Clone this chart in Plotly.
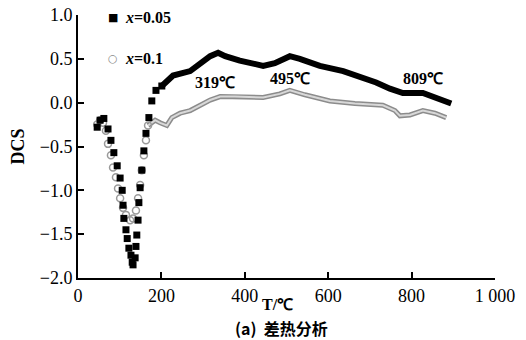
import plotly.graph_objects as go

# x = 0.05 series (temperature °C, DCS)
T_005 = [46, 53, 62, 72, 79, 86, 94, 101, 106, 108, 110, 115, 118, 122, 127, 130, 132,
         137, 139, 141, 144, 146, 149, 153, 158, 163, 170, 177, 187, 201,
         228, 269, 293, 317, 336, 353, 388, 444, 472, 508, 532, 580, 636, 676, 715,
         748, 779, 827, 856, 895]
DCS_005 = [-0.28, -0.20, -0.18, -0.30, -0.43, -0.57, -0.72, -0.86, -1.00, -1.17, -1.32, -1.45, -1.55, -1.66, -1.74, -1.82, -1.85,
           -1.77, -1.64, -1.51, -1.34, -1.14, -0.97, -0.77, -0.55, -0.35, -0.17, 0.02, 0.14, 0.19,
           0.31, 0.36, 0.44, 0.53, 0.57, 0.53, 0.48, 0.42, 0.45, 0.53, 0.50, 0.42, 0.36, 0.30, 0.23,
           0.16, 0.11, 0.11, 0.06, -0.01]
SPLIT_005 = 29  # points drawn as separate markers (the endothermic dip)

# x = 0.1 series
T_01 = [46, 53, 60, 67, 72, 79, 84, 91, 96, 101, 108, 115, 125, 132,
        139, 144, 149, 153, 158, 163, 168,
        185, 197, 213, 225, 245, 269, 293, 317, 341, 376, 444, 484, 508, 544,
        604, 664, 731, 760, 772, 796, 827, 856, 883]
DCS_01 = [-0.25, -0.20, -0.23, -0.32, -0.47, -0.60, -0.74, -0.85, -0.98, -1.09, -1.20, -1.28, -1.34, -1.32,
          -1.23, -1.09, -0.94, -0.77, -0.60, -0.43, -0.26,
          -0.20, -0.23, -0.26, -0.17, -0.12, -0.09, -0.03, 0.03, 0.07, 0.07, 0.06, 0.10, 0.14, 0.09,
          0.02, -0.01, -0.03, -0.09, -0.15, -0.14, -0.09, -0.12, -0.17]
SPLIT_01 = 20

series_names = ["<b><i>x</i>=0.05</b>", "<b><i>x</i>=0.1</b>"]

peak_T = [319, 495, 809]
peak_label_pos = [(329, 0.23), (508, 0.28), (827, 0.28)]

x_ticks = [0, 200, 400, 600, 800, 1000]
x_ticktext = ["0", "200", "400", "600", "800", "1 000"]
y_ticks = [1.0, 0.5, 0.0, -0.5, -1.0, -1.5, -2.0]
y_ticktext = ["1.0", "0.5", "0.0", "\u22120.5", "\u22121.0", "\u22121.5", "\u22122.0"]

SERIF = "Liberation Serif"

fig = go.Figure()

# gray series: line part (double-line look) then markers
fig.add_trace(go.Scatter(x=T_01[SPLIT_01:], y=DCS_01[SPLIT_01:], mode="lines",
                         line=dict(color="#8c8c8c", width=5), showlegend=False, hoverinfo="skip"))
fig.add_trace(go.Scatter(x=T_01[SPLIT_01:], y=DCS_01[SPLIT_01:], mode="lines",
                         line=dict(color="#d8d8d8", width=2), showlegend=False, hoverinfo="skip"))
fig.add_trace(go.Scatter(x=T_01[:SPLIT_01 + 1], y=DCS_01[:SPLIT_01 + 1], mode="markers",
                         marker=dict(symbol="circle-open", size=7, color="#9a9a9a", line=dict(width=1.5)),
                         name=series_names[1], showlegend=False))

# black series
fig.add_trace(go.Scatter(x=T_005[SPLIT_005:], y=DCS_005[SPLIT_005:], mode="lines",
                         line=dict(color="black", width=6), showlegend=False, hoverinfo="skip"))
fig.add_trace(go.Scatter(x=T_005[:SPLIT_005 + 1], y=DCS_005[:SPLIT_005 + 1], mode="markers",
                         marker=dict(symbol="square", size=7, color="black"),
                         name=series_names[0], showlegend=False))

annotations = []
for t, (ax_, ay_) in zip(peak_T, peak_label_pos):
    annotations.append(dict(x=ax_, y=ay_, xref="x", yref="y", text=f"<b>{t}\u2103</b>",
                            showarrow=False, font=dict(family=SERIF, size=16, color="black")))

# legend drawn as text inside the plot area (top-left)
legend_rows = [("\u25a0", "black", series_names[0], 0.992),
               ("\u25cb", "#8a8a8a", series_names[1], 0.833)]
for sym, col, name, yy in legend_rows:
    annotations.append(dict(x=0.084, y=yy, xref="paper", yref="paper", text=sym, showarrow=False,
                            font=dict(family="DejaVu Sans", size=11, color=col),
                            xanchor="center", yanchor="middle"))
    annotations.append(dict(x=0.108, y=yy, xref="paper", yref="paper", text=name, showarrow=False,
                            font=dict(family=SERIF, size=16, color="black"),
                            xanchor="left", yanchor="middle"))

annotations.append(dict(x=0.487, y=-0.19, xref="paper", yref="paper", text="<b>(a)  差热分析</b>",
                        showarrow=False, font=dict(family="Noto Sans CJK SC", size=16, color="black"),
                        yanchor="middle", xanchor="center"))
annotations.append(dict(x=0.478, y=-0.10, xref="paper", yref="paper", text="<b>T/\u2103</b>",
                        showarrow=False, font=dict(family=SERIF, size=16, color="black"),
                        yanchor="middle", xanchor="center"))
annotations.append(dict(x=-0.144, y=0.5, xref="paper", yref="paper", text="<b>DCS</b>", textangle=-90,
                        showarrow=False, font=dict(family=SERIF, size=18, color="black"),
                        yanchor="middle", xanchor="center"))

fig.update_layout(
    width=526, height=340,
    margin=dict(l=78, r=31, t=15, b=62),
    paper_bgcolor="white", plot_bgcolor="white",
    font=dict(family=SERIF, size=15, color="black"),
    annotations=annotations,
    showlegend=False,
    xaxis=dict(range=[0, 1000], tickvals=x_ticks, ticktext=x_ticktext, showgrid=False, zeroline=False,
               showline=True, linecolor="black", linewidth=2, ticks="inside", ticklen=6,
               tickwidth=2, tickcolor="black", automargin=False, ticklabeloverflow="allow",
               tickfont=dict(family=SERIF, size=18)),
    yaxis=dict(range=[-2.0, 1.0], tickvals=y_ticks, ticktext=y_ticktext, showgrid=False, zeroline=False,
               showline=True, linecolor="black", linewidth=2, ticks="inside", ticklen=6,
               tickwidth=2, tickcolor="black", automargin=False, ticklabeloverflow="allow",
               tickfont=dict(family=SERIF, size=18)),
)
fig.update_xaxes(tickprefix="<b>", ticksuffix="</b>")
fig.update_yaxes(tickprefix="<b>", ticksuffix="</b>")

# remove the page's default body margin so the figure fills the window exactly
fig.write_html("out.html", config=dict(displayModeBar=False),
               post_script="document.body.style.margin='0';document.body.style.overflow='hidden';")
